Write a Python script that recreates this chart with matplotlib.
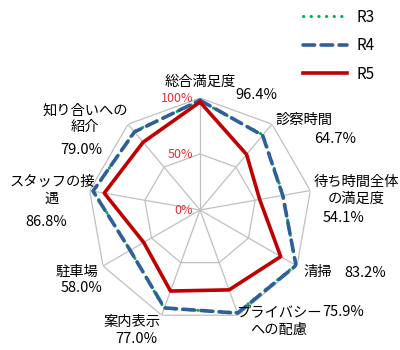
import numpy as np
import matplotlib
matplotlib.use('Agg')
import matplotlib.pyplot as plt
from matplotlib.transforms import ScaledTranslation

plt.rcParams['font.family'] = ['Noto Sans CJK JP', 'DejaVu Sans']

# data
categories = ['総合満足度', '診察時間', '待ち時間全体の満足度', '清掃', 'プライバシーへの配慮',
              '案内表示', '駐車場', 'スタッフの接遇', '知り合いへの紹介']
r3 = [97.5, 87.5, 75.5, 98.5, 97.5, 93.5, 72.0, 96.5, 91.5]
r4 = [98.0, 87.0, 75.0, 99.0, 98.0, 93.0, 72.0, 97.0, 91.0]
r5 = [96.4, 64.7, 54.1, 83.2, 75.9, 77.0, 58.0, 86.8, 79.0]
r_ticks = [0, 50, 100]
r_ticklabels = ['0%', '50%', '100%']

# label text (name, value) and pixel positions
name_txt = ['総合満足度', '診察時間', '待ち時間全体\nの満足度', '清掃', 'プライバシー\nへの配慮',
            '案内表示', '駐車場', 'スタッフの接\n遇', '知り合いへの\n紹介']
val_txt = ['96.4%', '64.7%', '54.1%', '83.2%', '75.9%', '77.0%', '58.0%', '86.8%', '79.0%']
name_pos = [(200, 82), (304, 120), (356, 190), (318, 272), (279, 321),
            (132, 322), (77, 272), (52, 190), (85, 119)]
val_pos = [(256, 95), (335, 139), (344, 218), (365, 273), (343, 312),
           (136, 339), (82, 288), (46, 222), (81, 150)]

W, H = 400, 350
fig = plt.figure(figsize=(4, 3.5), dpi=100)
ax = fig.add_axes([0.22, 0.08, 0.56, 0.64], projection='polar')

n = len(categories)
theta = np.linspace(0, 2 * np.pi, n, endpoint=False)
th = np.append(theta, theta[0])

ax.set_theta_zero_location('N')
ax.set_theta_direction(-1)
ax.set_ylim(0, 100)
ax.grid(False)
ax.spines['polar'].set_visible(False)
ax.set_xticks([])
ax.set_yticks([])

# polygon grid
gc = '#C0C0C0'
for lev in [50, 100]:
    ax.plot(th, [lev] * (n + 1), color=gc, lw=0.9, zorder=1)
for t in theta:
    ax.plot([t, t], [0, 100], color=gc, lw=0.9, zorder=1)

def close(v):
    return list(v) + [v[0]]

l3, = ax.plot(th, close(r3), color='#00B050', lw=2.2, linestyle=(0, (0.1, 2.4)),
              dash_capstyle='round', label='R3', zorder=3)
l4, = ax.plot(th, close(r4), color='#2F5F98', lw=2.6, linestyle=(0, (3.2, 1.8)),
              dash_capstyle='round', label='R4', zorder=4)
l5, = ax.plot(th, close(r5), color='#C00000', lw=2.6, label='R5', zorder=5)

off = ScaledTranslation(-0.07, 0, fig.dpi_scale_trans)
for v, s in zip(r_ticks, r_ticklabels):
    ax.text(0, v, s, color='#E03030', fontsize=9, ha='right', va='center',
            transform=ax.transData + off)

for s, (x, y) in zip(name_txt, name_pos):
    fig.text(x / W, 1 - y / H, s, fontsize=10.3, ha='center', va='center', linespacing=1.25)
for s, (x, y) in zip(val_txt, val_pos):
    fig.text(x / W, 1 - y / H, s, fontsize=10.5, ha='center', va='center')

fig.legend(handles=[l3, l4, l5], loc='upper left', bbox_to_anchor=(0.757, 0.975),
           frameon=False, fontsize=11, handlelength=2.9, labelspacing=0.75,
           borderpad=0, borderaxespad=0, handletextpad=0.6)

fig.savefig('out.png', dpi=100)
